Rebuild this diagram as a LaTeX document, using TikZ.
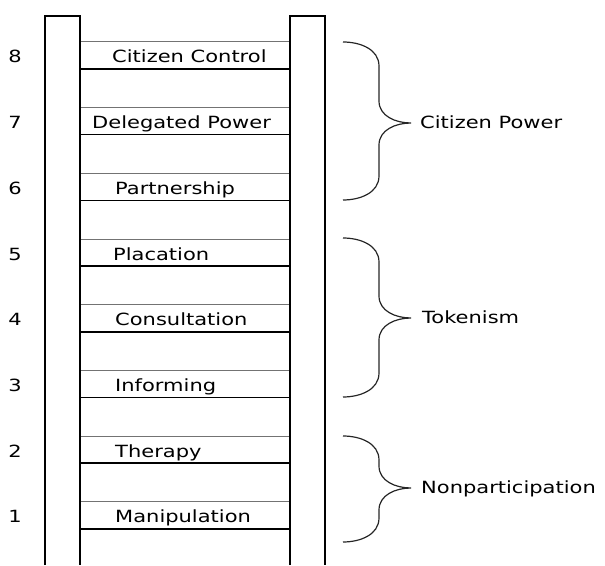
\documentclass[tikz,border=0pt]{standalone}
\usepackage{fontspec}
\setmainfont{DejaVu Sans}[FakeStretch=1.25]
\usepackage{tikz}
\usetikzlibrary{positioning}

\tikzset{
  rail/.style={line width=1.5pt,black},
  rungtop/.style={line width=1pt,black!55},
  rungbot/.style={line width=1.5pt,black},
  bracket/.style={line width=1.2pt,black!85},
  rungtext/.style={anchor=west,inner sep=0pt,text height=12pt,text depth=0pt,
    font=\fontsize{16.8}{19}\selectfont,black},
  numtext/.style={rungtext,anchor=center},
  grouptext/.style={rungtext}
}

% curly bracket next to the ladder: top, tip, bottom, name of tip
\newcommand{\groupbrace}[4]{%
  \draw[bracket] (343,#1) to[out=0,in=90] (379,#1-24) -- (379,#2+22)
    to[out=-90,in=180] (411,#2) coordinate (#4)
    to[out=180,in=90] (379,#2-22) -- (379,#3+24) to[out=-90,in=0] (343,#3);}

\begin{document}
\begin{tikzpicture}[x=1pt,y=1pt]
    \useasboundingbox (0,0) rectangle (605,565);

    % rungs
    \foreach \k/\txt/\xl in {8/Citizen Control/112, 7/Delegated Power/92,
        6/Partnership/115, 5/Placation/113, 4/Consultation/115,
        3/Informing/115, 2/Therapy/115, 1/Manipulation/115}{
      \pgfmathsetmacro{\yt}{523-65.7*(8-\k)}
      \draw[rungtop] (80,\yt) -- (290,\yt);
      \draw[rungbot] (80,\yt-27) -- (290,\yt-27);
      \node[rungtext] (rung\k) at (\xl,\yt-15) {\txt};
      \node[numtext] (num\k) at (15,\yt-15) {\k};
    }

    % rails
    \draw[rail] (45,0) -- (45,549) -- (80,549) -- (80,0);
    \draw[rail] (290,0) -- (290,549) -- (325,549) -- (325,0);

    % groups
    \groupbrace{523}{442}{365}{power}
    \groupbrace{327}{247}{168}{token}
    \groupbrace{129}{77}{23}{nonpart}
    \node[grouptext,right=9pt of power] (powerlab) {Citizen Power};
    \node[grouptext,right=11pt of token] (tokenlab) {Tokenism};
    \node[grouptext,right=10pt of nonpart] (nonpartlab) {Nonparticipation};
\end{tikzpicture}
\end{document}
